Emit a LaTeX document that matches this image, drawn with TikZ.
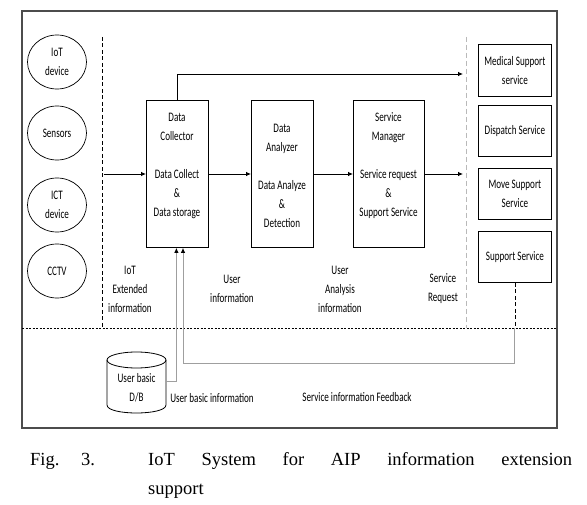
\documentclass[tikz,border=0pt]{standalone}
\usepackage{fontspec}
\setmainfont{Liberation Serif}
\newfontfamily\dfont{Carlito}[FakeStretch=0.70]
\newfontfamily\capfont{Liberation Serif}
\usetikzlibrary{arrows.meta,shapes.geometric}
\begin{document}
\begin{tikzpicture}[x=1pt,y=-1pt,
  txt/.style={font=\dfont\fontsize{13}{19}\selectfont, align=center, inner sep=0pt},
  box/.style={draw=black, line width=0.8pt, fill=white, inner sep=0pt},
  ell/.style={ellipse, draw=black, line width=0.7pt, minimum width=59pt, minimum height=54pt, inner sep=0pt, txt},
  arr/.style={-{Latex[length=5pt,width=4.5pt]}, line width=0.8pt},
  garr/.style={draw=gray!75, line width=1pt, -{Latex[length=5pt,width=4.5pt,color=black]}},
  gline/.style={draw=gray!75, line width=1pt},
  frame/.style={draw=gray!60!black, line width=1.2pt},
  sepline/.style={line width=0.7pt, dash pattern=on 2pt off 1.5pt},
  vdash/.style={line width=0.7pt, dash pattern=on 4pt off 2.5pt},
  gdash/.style={draw=gray!55, line width=0.7pt, dash pattern=on 5pt off 3pt}
]
\useasboundingbox (0,0) rectangle (587,505);
\fill[white] (0,0) rectangle (587,505);

% outer frame
\draw[frame] (22,11) rectangle (557,428);

% separators
\coordinate (hl1) at (22,328);
\coordinate (hl2) at (557,328);
\draw[sepline] (hl1) -- (hl2);
\coordinate (vl1) at (102,37);
\coordinate (vl2) at (102,328);
\draw[vdash] (vl1) -- (vl2);
\coordinate (vr1) at (466,37);
\coordinate (vr2) at (466,328);
\draw[gdash] (vr1) -- (vr2);

% sources
\node[ell] (e1) at (57,62) {IoT\\device};
\node[ell] (e2) at (57,133) {Sensors};
\node[ell] (e3) at (57,205) {ICT\\device};
\node[ell] (e4) at (57,271) {CCTV};

% main boxes
\node[box, minimum width=62pt, minimum height=147pt, anchor=north west] (dc) at (146,100) {};
\node[box, minimum width=62pt, minimum height=147pt, anchor=north west] (da) at (251,100) {};
\node[box, minimum width=71pt, minimum height=147pt, anchor=north west] (sm) at (353,100) {};
\node[txt] (dct) at (177,166) {Data\\Collector\\[19pt]Data Collect\\\&\\Data storage};
\node[txt] (dat) at (282,175.5) {Data\\Analyzer\\[19pt]Data Analyze\\\&\\Detection};
\node[txt] (smt) at (388.5,166) {Service\\Manager\\[19pt]Service request\\\&\\Support Service};

% service boxes
\node[box, txt, draw, line width=0.8pt, minimum width=73pt, minimum height=52pt, anchor=north west] (s1) at (478,44) {Medical Support\\service};
\node[box, txt, draw, line width=0.8pt, minimum width=73pt, minimum height=51pt, anchor=north west] (s2) at (478,105) {Dispatch Service};
\node[box, txt, draw, line width=0.8pt, minimum width=73pt, minimum height=51pt, anchor=north west] (s3) at (478,168) {Move Support\\Service};
\node[box, txt, draw, line width=0.8pt, minimum width=73pt, minimum height=51pt, anchor=north west] (s4) at (478,231) {Support Service};

% flow arrows
\coordinate (in1) at (103.5,174);
\coordinate (out1) at (463,174);
\coordinate (top1) at (463,74);
\draw[arr] (in1) -- (in1 -| dc.west);
\draw[arr] (dc.east |- in1) -- (in1 -| da.west);
\draw[arr] (da.east |- in1) -- (in1 -| sm.west);
\draw[arr] (sm.east |- in1) -- (out1);
\draw[arr] (dc.north) |- (top1);

% labels
\node[txt] (l1) at (130,289) {IoT\\Extended\\information};
\node[txt] (l2) at (232,289) {User\\information};
\node[txt] (l3) at (340,289) {User\\Analysis\\information};
\node[txt] (l4) at (443,289) {Service\\Request};

% database cylinder
\path[draw=black, line width=0.8pt, fill=white] (107,360) -- (107,405) .. controls (107,415.67) and (166,415.67) .. (166,405) -- (166,360);
\draw[line width=0.8pt] (136.5,360) ellipse [x radius=29.5pt, y radius=8pt];
\node[txt] (db) at (136.5,388) {User basic\\D/B};
\coordinate (dbe) at (166,382);
\draw[garr] (dbe) -| ([xshift=-1pt]dc.south);
\node[txt] (ubi) at (212,398) {User basic information};

% feedback
\coordinate (fbh) at (s4.south |- hl1);
\coordinate (fb) at (s4.south |- 0,364);
\coordinate (fbl) at (183,364);
\draw[vdash] (s4.south) -- (fbh);
\draw[gline] (fbh) -- (fb) -- (fbl);
\draw[garr] (fbl) -- (fbl |- dc.south);
\node[txt] (sif) at (357,397) {Service information Feedback};

% caption
\node[anchor=base west, inner sep=0pt, font=\capfont\fontsize{18.5}{22}\selectfont] (cap1) at (30,465)
  {\makebox[51pt][l]{Fig.}\makebox[67pt][l]{3.}\makebox[424pt][s]{IoT System for AIP information extension}};
\node[anchor=base west, inner sep=0pt, font=\capfont\fontsize{18.5}{22}\selectfont] (cap2) at (148,494) {support};
\end{tikzpicture}
\end{document}
